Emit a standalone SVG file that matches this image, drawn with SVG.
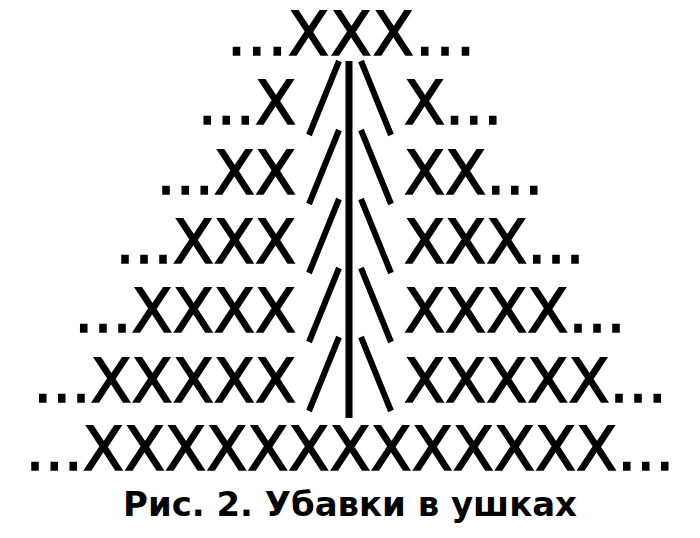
<svg xmlns="http://www.w3.org/2000/svg" width="700" height="538" viewBox="0 0 700 538">
<style>
.r{font-family:"DejaVu Sans","Liberation Sans",sans-serif;font-size:60px;fill:#000;stroke:#000;stroke-width:1.4}
.c{font-family:"DejaVu Sans","Liberation Sans",sans-serif;font-size:34px;font-weight:bold;fill:#000}
.s{stroke:#000;stroke-width:6;fill:none}
</style>
<rect width="700" height="538" fill="#fff"/>
<g id="rows">
<text class="r" x="351" y="55" text-anchor="middle" textLength="248">...XXX...</text>
<text class="r" x="296" y="124" text-anchor="end">...X</text>
<text class="r" x="404" y="124">X...</text>
<text class="r" x="296" y="194" text-anchor="end">...XX</text>
<text class="r" x="404" y="194">XX...</text>
<text class="r" x="296" y="263" text-anchor="end">...XXX</text>
<text class="r" x="404" y="263">XXX...</text>
<text class="r" x="296" y="332" text-anchor="end">...XXXX</text>
<text class="r" x="404" y="332">XXXX...</text>
<text class="r" x="296" y="402" text-anchor="end">...XXXXX</text>
<text class="r" x="404" y="402">XXXXX...</text>
<text class="r" x="350" y="470" text-anchor="middle">...XXXXXXXXXXXXX...</text>
</g>
<g id="connectors">
<line class="s" x1="349" y1="61" x2="349" y2="418" style="stroke-width:7"/>
<line class="s" x1="309" y1="135" x2="339" y2="61"/>
<line class="s" x1="309" y1="204" x2="339" y2="130"/>
<line class="s" x1="309" y1="273" x2="339" y2="199"/>
<line class="s" x1="309" y1="342" x2="339" y2="268"/>
<line class="s" x1="309" y1="411" x2="339" y2="337"/>
<line class="s" x1="361" y1="61" x2="391" y2="135"/>
<line class="s" x1="361" y1="130" x2="391" y2="204"/>
<line class="s" x1="361" y1="199" x2="391" y2="273"/>
<line class="s" x1="361" y1="268" x2="391" y2="342"/>
<line class="s" x1="361" y1="337" x2="391" y2="411"/>
</g>
<g id="caption">
<text class="c" x="350" y="516" text-anchor="middle" textLength="454" lengthAdjust="spacingAndGlyphs">Рис. 2. Убавки в ушках</text>
</g>
</svg>
